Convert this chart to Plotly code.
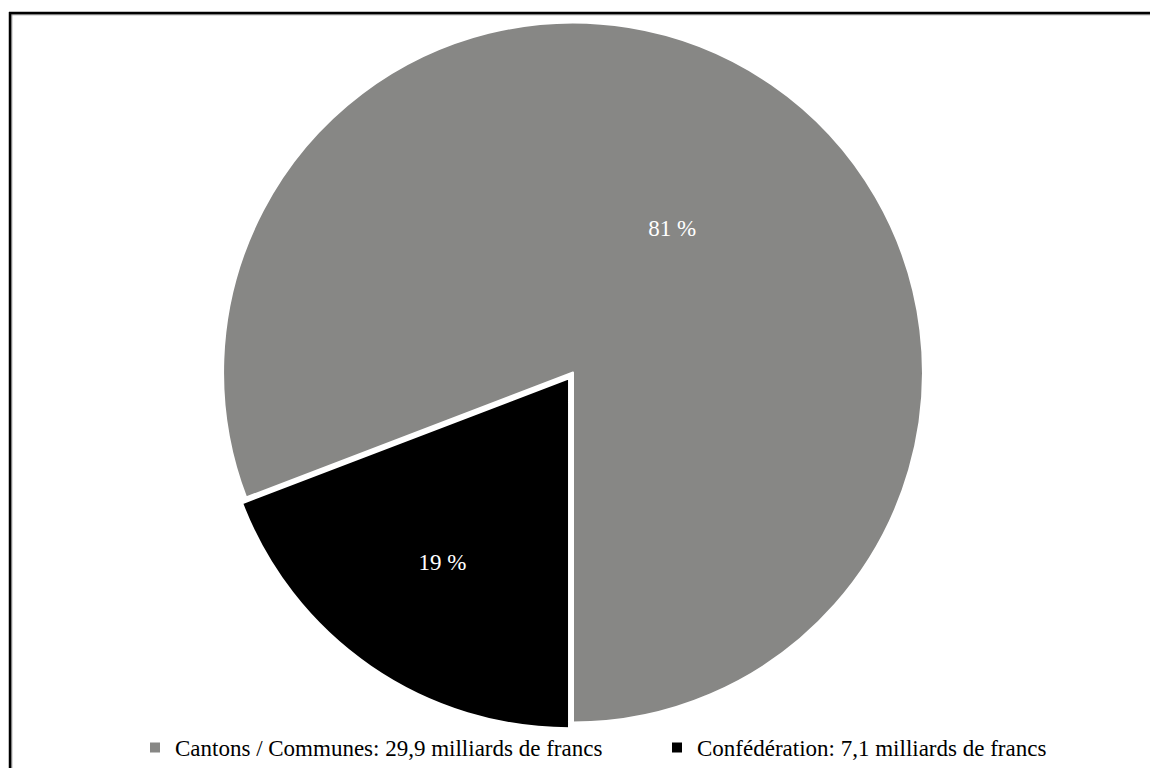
import plotly.graph_objects as go

labels = ["Cantons / Communes: 29,9 milliards de francs", "Confédération: 7,1 milliards de francs"]
values = [29.9, 7.1]
percent_labels = ["81 %", "19 %"]
colors = ["#878785", "#000000"]
pulls = [0, 0.02]

W, H = 1150, 769
total = sum(values)
rotation = 180 + 360 * values[1] / total
if rotation > 180:
    rotation -= 360

def px(x):
    return x / W

def py(y):
    return 1 - y / H

R = 357.4
CX, CY = 573, 373

fig = go.Figure(go.Pie(
    labels=labels,
    values=values,
    text=percent_labels,
    textinfo="text",
    textposition="inside",
    insidetextorientation="horizontal",
    textfont=dict(family="Liberation Serif", size=23, color="white"),
    marker=dict(colors=colors, line=dict(color="white", width=2)),
    pull=pulls,
    sort=False,
    direction="clockwise",
    rotation=rotation,
    hole=0,
    domain=dict(x=[px(CX - R), px(CX + R)], y=[py(CY + R), py(CY - R)]),
))

fig.update_layout(
    width=W, height=H,
    margin=dict(l=0, r=0, t=0, b=0),
    paper_bgcolor="white",
    plot_bgcolor="white",
    font=dict(family="Liberation Serif", size=23, color="black"),
    showlegend=True,
    legend=dict(
        orientation="h",
        x=px(15), xanchor="left",
        y=py(748), yanchor="middle",
        indentation=120,
        entrywidth=357, entrywidthmode="pixels",
        font=dict(family="Liberation Serif", size=23, color="black"),
        bgcolor="rgba(0,0,0,0)",
        itemclick=False,
    ),
    shapes=[
        dict(type="line", xref="paper", yref="paper", x0=px(9), x1=px(1150), y0=py(14.8), y1=py(14.8),
             line=dict(color="#8a8a8a", width=1)),
        dict(type="line", xref="paper", yref="paper", x0=px(11.8), x1=px(11.8), y0=py(14), y1=py(769),
             line=dict(color="#8a8a8a", width=1)),
        dict(type="line", xref="paper", yref="paper", x0=px(9), x1=px(1150), y0=py(13), y1=py(13),
             line=dict(color="black", width=2.5)),
        dict(type="line", xref="paper", yref="paper", x0=px(10), x1=px(10), y0=py(12), y1=py(769),
             line=dict(color="black", width=2.5)),
    ],
)

fig.write_html(
    "out.html",
    config={"displayModeBar": False},
    post_script="document.body.style.margin='0';document.body.style.overflow='hidden';",
)
